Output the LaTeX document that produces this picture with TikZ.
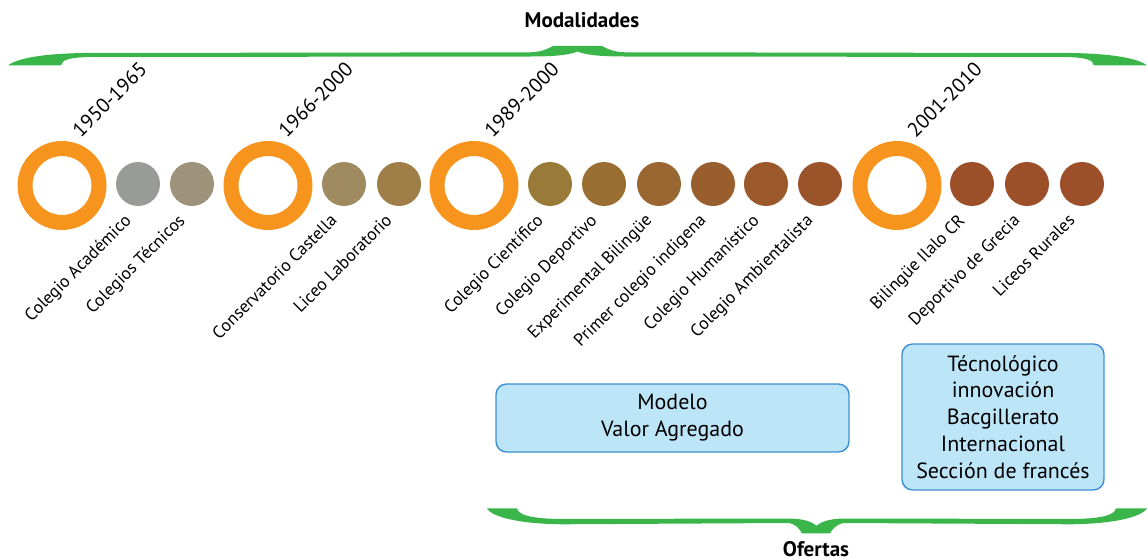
\documentclass[tikz,border=0pt]{standalone}
\usepackage{fontspec}
\setmainfont{PT Sans}
\usetikzlibrary{calc,positioning}
\definecolor{ringorange}{HTML}{F7941E}
\definecolor{bracegreen}{HTML}{3AB54A}
\definecolor{boxfill}{HTML}{BDE5F8}
\definecolor{boxline}{HTML}{3D8FD1}
\definecolor{dotA}{HTML}{999B99}
\definecolor{dotB}{HTML}{9C937A}
\definecolor{dotC}{HTML}{A08B61}
\definecolor{dotD}{HTML}{9E7E46}
\definecolor{dotE}{HTML}{9A7A38}
\definecolor{dotF}{HTML}{9A6E31}
\definecolor{dotG}{HTML}{9A6631}
\definecolor{dotH}{HTML}{995E2D}
\definecolor{dotI}{HTML}{9A582B}
\definecolor{dotJ}{HTML}{9B532A}
\definecolor{dotK}{HTML}{9C4F28}
\tikzset{
  ring/.style={circle,draw=ringorange,line width=0.3cm,minimum size=1.48cm,inner sep=0pt},
  dot/.style={circle,fill=#1,minimum size=0.88cm,inner sep=0pt},
  school/.style={rotate=45,anchor=north east,inner sep=0pt,font=\fontsize{10}{12}\selectfont},
  years/.style={rotate=45,anchor=south west,inner sep=0pt,font=\fontsize{11.5}{14}\selectfont},
  offer/.style={draw=boxline,fill=boxfill,rounded corners=6pt,line width=0.8pt,align=center,font=\fontsize{12.5}{15.3}\selectfont},
  title/.style={font=\bfseries\fontsize{12}{14}\selectfont},
  curly/.style={fill=bracegreen},
}
\begin{document}
\begin{tikzpicture}[x=0.02cm,y=-0.02cm]
\useasboundingbox (0,0) rectangle (1147,560);
\node[title] (modal) at (582,20) {Modalidades};
% top brace
\fill[curly] (8,65.5) -- (61,65.5) .. controls (62,60) and (68,57.5) .. (90,57) -- (535,56.5)
  .. controls (560,56.3) and (572,54) .. (577.5,51.5) .. controls (583,54) and (595,56.3) .. (620,56.5)
  -- (1065,57) .. controls (1087,57.5) and (1093,60) .. (1094,65.5) -- (1147,65.5)
  .. controls (1138,58) and (1110,53.5) .. (1070,53) -- (625,52.3) .. controls (612,52) and (606,48) .. (602,46)
  -- (553,46) .. controls (549,48) and (543,52) .. (530,52.3) -- (85,53)
  .. controls (45,53.5) and (17,58) .. (8,65.5) -- cycle;

\node[ring] (r1) at (62,185.5) {};
\node[ring] (r2) at (268,185.5) {};
\node[ring] (r3) at (474,185.5) {};
\node[ring] (r4) at (897,185.5) {};
\node[years] at ($(r1.north)+(19,-2)$) {1950-1965};
\node[years] at ($(r2.north)+(19,-2)$) {1966-2000};
\node[years] at ($(r3.north)+(19,-2)$) {1989-2000};
\node[years] at ($(r4.north)+(19,-2)$) {2001-2010};

\node[dot=dotA] (s1) at (138,184) {};
\node[dot=dotB] (s2) at (192,184) {};
\node[dot=dotC] (s3) at (344,184) {};
\node[dot=dotD] (s4) at (399,184) {};
\node[dot=dotE] (s5) at (550,184) {};
\node[dot=dotF] (s6) at (604,184) {};
\node[dot=dotG] (s7) at (659,184) {};
\node[dot=dotH] (s8) at (713,184) {};
\node[dot=dotI] (s9) at (766,184) {};
\node[dot=dotJ] (s10) at (820,184) {};
\node[dot=dotK] (s11) at (972,184) {};
\node[dot=dotK] (s12) at (1027,184) {};
\node[dot=dotK] (s13) at (1082,184) {};

\node[school] at ($(s1.south)+(-15,6)$) {Colegio Académico};
\node[school] at ($(s2.south)+(-15,6)$) {Colegios Técnicos};
\node[school] at ($(s3.south)+(-15,6)$) {Conservatorio Castella};
\node[school] at ($(s4.south)+(-15,6)$) {Liceo Laboratorio};
\node[school] at ($(s5.south)+(-15,6)$) {Colegio Científico};
\node[school] at ($(s6.south)+(-15,6)$) {Colegio Deportivo};
\node[school] at ($(s7.south)+(-15,6)$) {Experimental Bilingüe};
\node[school] at ($(s8.south)+(-15,6)$) {Primer colegio indigena};
\node[school] at ($(s9.south)+(-15,6)$) {Colegio Humanístico};
\node[school] at ($(s10.south)+(-15,6)$) {Colegio Ambientalista};
\node[school] at ($(s11.south)+(-15,6)$) {Bilingüe Ilalo CR};
\node[school] at ($(s12.south)+(-15,6)$) {Deportivo de Grecia};
\node[school] at ($(s13.south)+(-15,6)$) {Liceos Rurales};

\node[offer,minimum width=7.06cm,minimum height=1.36cm] (valor) at (672.5,418) {Modelo\\Valor Agregado};
\node[offer,minimum width=4.04cm,minimum height=2.92cm] (tecno) at (1003,417) {Técnológico\\innovación\\Bacgillerato\\Internacional\\Sección de francés};

% bottom brace
\fill[curly] (487,508.5) -- (517,508.5) .. controls (519,515) and (530,518.5) .. (560,519) -- (790,518.5)
  .. controls (805,519) and (812,522) .. (816.5,525.7) .. controls (821,522) and (828,519) .. (843,518.5)
  -- (1073,519) .. controls (1103,518.5) and (1114,515) .. (1116,508.5) -- (1147,508.5)
  .. controls (1140,518) and (1110,524) .. (1070,524.3) -- (845,523) .. controls (836,523.5) and (832,530) .. (830,533.3)
  -- (802,533.3) .. controls (800,530) and (796,523.5) .. (788,523) -- (563,524.3)
  .. controls (523,524) and (493,518) .. (487,508.5) -- cycle;
\node[title] (ofertas) at (816,549) {Ofertas};
\end{tikzpicture}
\end{document}
